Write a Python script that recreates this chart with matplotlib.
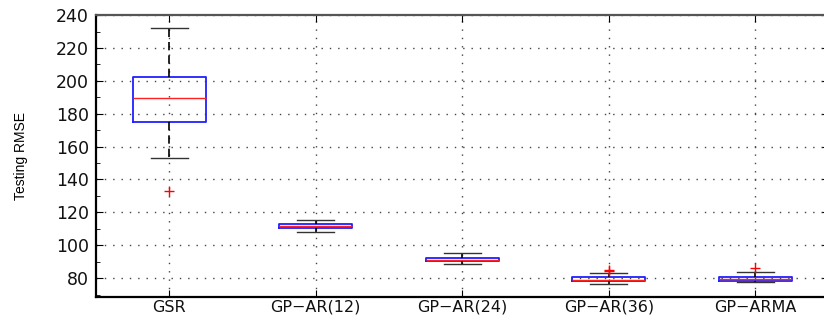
import matplotlib
matplotlib.use('Agg')
import matplotlib.pyplot as plt
from matplotlib.ticker import MultipleLocator

# box statistics per model: lower whisker, q1, median, q3, upper whisker, outliers
models = ['GSR', 'GP\u2212AR(12)', 'GP\u2212AR(24)', 'GP\u2212AR(36)', 'GP\u2212ARMA']
whislo = [153.1, 108.1, 88.3, 76.3, 77.6]
q1 = [175.0, 110.6, 90.3, 78.2, 78.2]
med = [189.4, 111.6, 91.1, 79.0, 79.6]
q3 = [202.5, 112.8, 92.3, 80.4, 80.8]
whishi = [232.3, 115.2, 95.4, 82.8, 84.0]
fliers = [[133.2], [], [], [84.4, 85.2], [86.4]]

stats = []
for i in range(len(models)):
    stats.append(dict(label=models[i], whislo=whislo[i], q1=q1[i], med=med[i],
                      q3=q3[i], whishi=whishi[i], fliers=fliers[i]))

fig = plt.figure(figsize=(8.24, 3.2), dpi=100)
ax = fig.add_axes([0.1165, 0.0719, 0.889, 0.881])

ax.bxp(stats, positions=range(1, 6), widths=0.5, showfliers=True,
       boxprops=dict(color='#2020ff', linewidth=1.3),
       medianprops=dict(color='#ff2020', linewidth=1.0),
       whiskerprops=dict(color='black', linewidth=1.2, linestyle=(0, (5, 3))),
       capprops=dict(color='#333333', linewidth=1.0),
       capwidths=0.25,
       flierprops=dict(marker='+', markeredgecolor='#ff0000', markersize=7,
                       markeredgewidth=1.0, linestyle='none'))

ax.set_xlim(0.5, 5.5)
ax.set_ylim(68.5, 240)
ax.yaxis.set_major_locator(MultipleLocator(20))
ax.yaxis.set_minor_locator(MultipleLocator(10))
ax.set_xticks(range(1, 6))
ax.set_xticklabels(models)

# sparse dotted grid
ax.grid(True, which='major', linestyle=(0, (1, 5)), color='#444444', linewidth=1.0)
ax.tick_params(axis='both', which='both', direction='in', top=True, right=True,
               labelcolor='#111111')
ax.tick_params(axis='y', which='minor', length=3)
ax.tick_params(axis='y', which='major', length=5, pad=5, labelsize=12.5)
ax.tick_params(axis='x', which='major', length=5, pad=2, labelsize=11.5)
for lab in ax.get_xticklabels() + ax.get_yticklabels():
    lab.set_family('DejaVu Sans')

for side in ['left', 'bottom']:
    ax.spines[side].set_linewidth(1.6)
ax.spines['top'].set_linewidth(1.6)
ax.spines['top'].set_color('#555555')

ax.set_ylabel('Testing RMSE', family=['Liberation Sans Narrow', 'Liberation Sans'],
              fontsize=10, labelpad=20)

fig.savefig('out.png', dpi=100)
